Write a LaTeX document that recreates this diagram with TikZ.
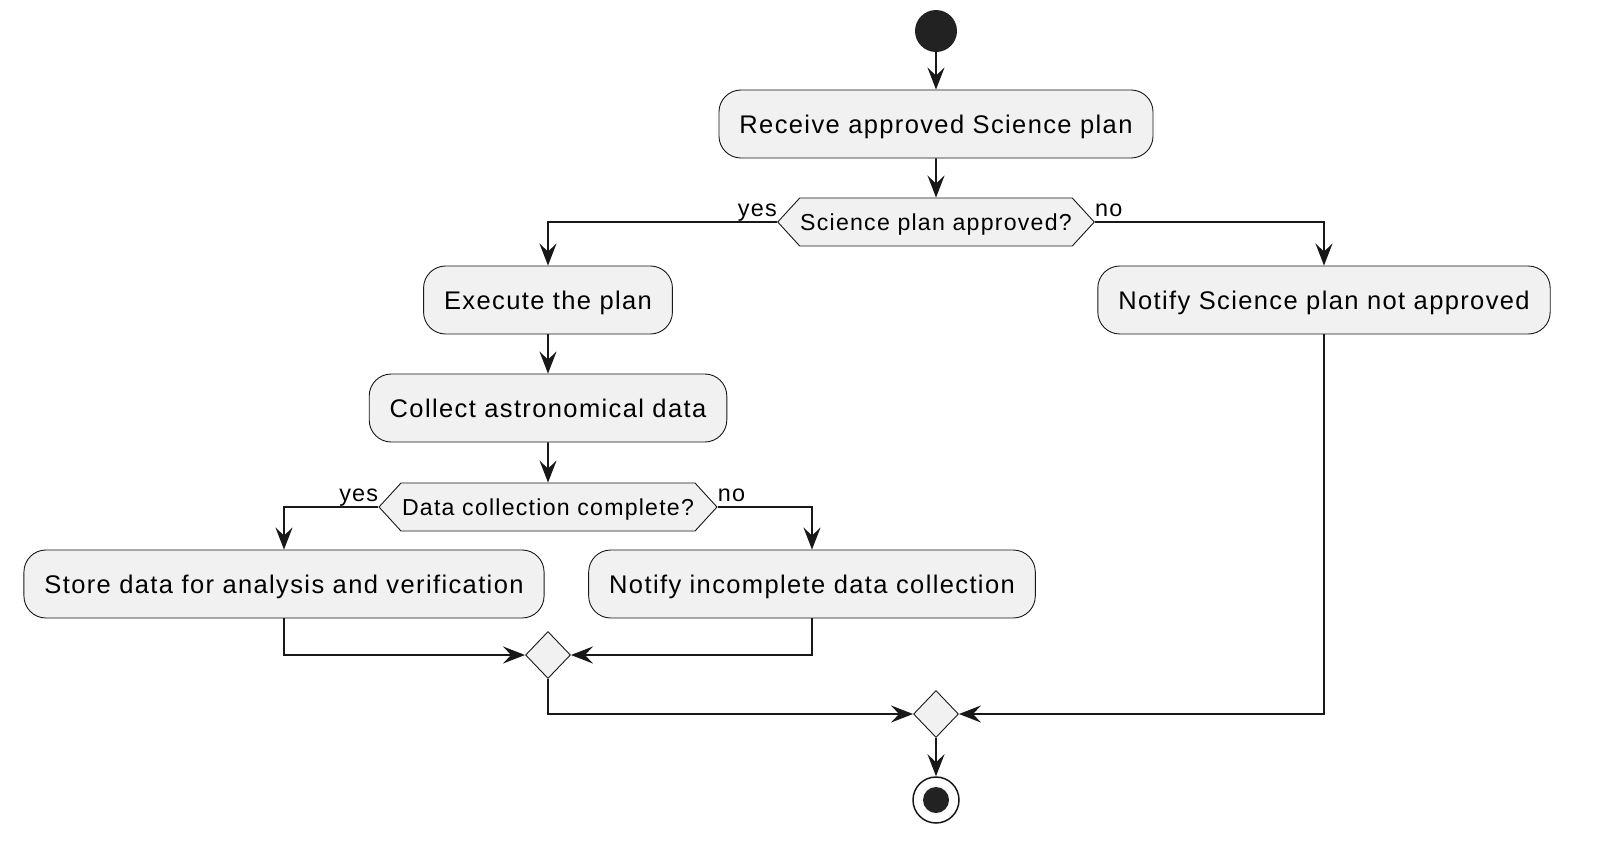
\documentclass[tikz,border=0pt]{standalone}
\usepackage{fontspec}
\setmainfont{Liberation Sans}[LetterSpace=5.4]
\usepackage{xcolor}
\usepackage{tikz}
\usetikzlibrary{arrows.meta,shapes.symbols,shapes.geometric,positioning}
\definecolor{actfill}{HTML}{F1F1F1}
\definecolor{actline}{HTML}{181818}
\definecolor{actdot}{HTML}{222222}

\begin{document}
\begin{tikzpicture}[x=1pt,y=-1pt,
    act/.style={draw=actline,line width=0.9pt,fill=actfill,rounded corners=22pt,
      minimum height=68pt,inner xsep=20.5pt,text height=18.3pt,text depth=0pt,
      font=\fontsize{25.5}{30}\selectfont},
    test/.style={draw=actline,line width=0.9pt,fill=actfill,signal,
      signal to=west and east,signal pointer angle=95,minimum height=48pt,
      inner xsep=0.5pt,inner ysep=2pt,text height=16.6pt,text depth=0pt,
      font=\fontsize{23.1}{28}\selectfont},
    merge/.style={draw=actline,line width=0.9pt,fill=actfill,diamond,
      minimum width=45pt,minimum height=47pt,inner sep=0pt},
    flow/.style={draw=actline,line width=1.8pt,
      -{Stealth[length=22pt,width=17pt,inset=8pt]}},
    lbl/.style={font=\fontsize{23.4}{28}\selectfont,inner sep=0pt}]
  \useasboundingbox (0,0) rectangle (1612,854);

  \node[circle,fill=actdot,minimum size=42pt,inner sep=0pt] (start) at (936,31) {};
  \node[act] (receive) at (936,124) {Receive approved Science plan};
  \node[test,minimum width=316pt] (approved) at (936,222) {Science plan approved?};
  \node[act] (execute) at (548,300) {Execute the plan};
  \node[act] (notapproved) at (1324,300) {Notify Science plan not approved};
  \node[act] (collect) at (548,408) {Collect astronomical data};
  \node[test,minimum width=338pt] (complete) at (548,507) {Data collection complete?};
  \node[act] (store) at (284,584) {Store data for analysis and verification};
  \node[act] (incomplete) at (812,584) {Notify incomplete data collection};
  \node[merge] (mergein) at (548,655) {};
  \node[merge] (mergeout) at (936,714) {};
  \node[circle,draw=actline,line width=1.5pt,fill=white,minimum size=46pt,
    inner sep=0pt] (stop) at (936,800) {};
  \fill[actdot] (stop.center) circle (13pt);

  \node[lbl,anchor=base east,yshift=6pt] at (approved.west) {yes};
  \node[lbl,anchor=base west,yshift=6pt] at (approved.east) {no};
  \node[lbl,anchor=base east,yshift=6pt] at (complete.west) {yes};
  \node[lbl,anchor=base west,yshift=6pt] at (complete.east) {no};

  \draw[flow] (start) -- (receive);
  \draw[flow] (receive) -- (approved);
  \draw[flow] (approved.west) -| (execute.north);
  \draw[flow] (approved.east) -| (notapproved.north);
  \draw[flow] (execute) -- (collect);
  \draw[flow] (collect) -- (complete);
  \draw[flow] (complete.west) -| (store.north);
  \draw[flow] (complete.east) -| (incomplete.north);
  \draw[flow] (store.south) |- (mergein.west);
  \draw[flow] (incomplete.south) |- (mergein.east);
  \draw[flow] (mergein.south) |- (mergeout.west);
  \draw[flow] (notapproved.south) |- (mergeout.east);
  \draw[flow] (mergeout) -- (stop);
\end{tikzpicture}
\end{document}
